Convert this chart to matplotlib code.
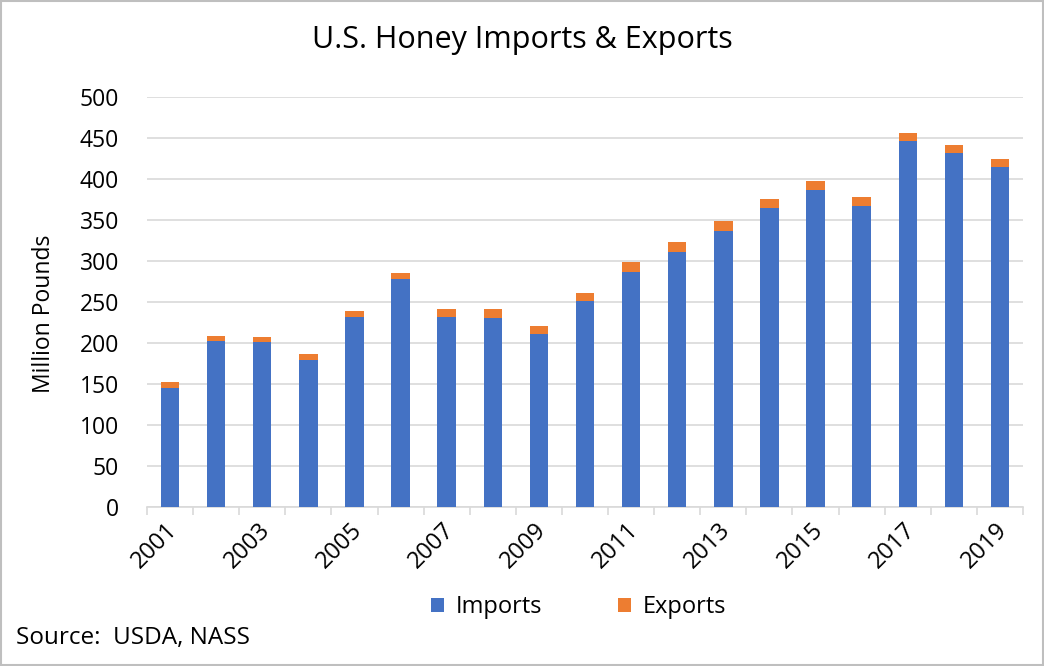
import matplotlib.pyplot as plt
import matplotlib.transforms as mtransforms
import numpy as np

plt.rcParams['font.family'] = ['Open Sans', 'DejaVu Sans']

years = [str(y) for y in range(2001, 2020)]
imports = [145, 202, 201, 179, 232, 278, 232, 231, 211, 251,
           287, 311, 337, 365, 386, 367, 446, 432, 415]
exports = [7, 7, 6, 7, 7, 7, 9, 10, 10, 10,
           12, 12, 12, 11, 11, 11, 10, 10, 10]

blue = '#4472C4'
orange = '#ED7D31'
grid = '#D9D9D9'

fig = plt.figure(figsize=(10.44, 6.66), dpi=100)
ax = fig.add_axes([147 / 1044, 1 - 507 / 666, 876 / 1044, 410 / 666])

x = np.arange(len(years))
ax.bar(x, imports, width=0.4, color=blue, label='Imports', zorder=3)
ax.bar(x, exports, width=0.4, bottom=imports, color=orange, label='Exports', zorder=3)

ax.set_xlim(-0.5, len(years) - 0.5)
ax.set_ylim(0, 500)
ax.set_yticks(range(0, 501, 50))
ax.yaxis.grid(True, color=grid, linewidth=1.2, zorder=0)
ax.tick_params(axis='y', length=0, labelsize=16.5, pad=20)

# year labels on every other bar, tick marks between categories
ax.set_xticks(x[::2])
ax.set_xticklabels(years[::2], rotation=45, fontsize=17, ha='right',
                   va='center', rotation_mode='anchor')
ax.tick_params(axis='x', which='major', length=0, pad=14)
shift = mtransforms.ScaledTranslation(4 / 100, 0, fig.dpi_scale_trans)
for lbl in ax.get_xticklabels():
    lbl.set_transform(lbl.get_transform() + shift)
ax.set_xticks(np.arange(-0.5, len(years), 1), minor=True)
ax.tick_params(axis='x', which='minor', length=6, color=grid, width=1.2)

for s in ['top', 'right', 'left']:
    ax.spines[s].set_visible(False)
ax.spines['bottom'].set_color(grid)
ax.spines['bottom'].set_linewidth(1.2)

ax.set_ylabel('Million Pounds', fontsize=16.5)
ax.yaxis.set_label_coords(-0.104, 0.47)
fig.text(0.5, 1 - 40 / 666, 'U.S. Honey Imports & Exports', fontsize=22,
         ha='center', va='center')

fig.legend(loc='center', bbox_to_anchor=(0.554, 1 - 607 / 666), ncol=2, frameon=False,
           fontsize=17, handlelength=0.55, handleheight=0.55, columnspacing=3.2,
           handletextpad=0.5)
fig.text(16 / 1044, 1 - 638 / 666, 'Source:  USDA, NASS', fontsize=17.5, va='center')

fig.patches.append(plt.Rectangle((0.001, 0.001), 0.998, 0.997, transform=fig.transFigure,
                                 fill=False, edgecolor='#BFBFBF', linewidth=1.5))

fig.savefig('out.png', dpi=100)
